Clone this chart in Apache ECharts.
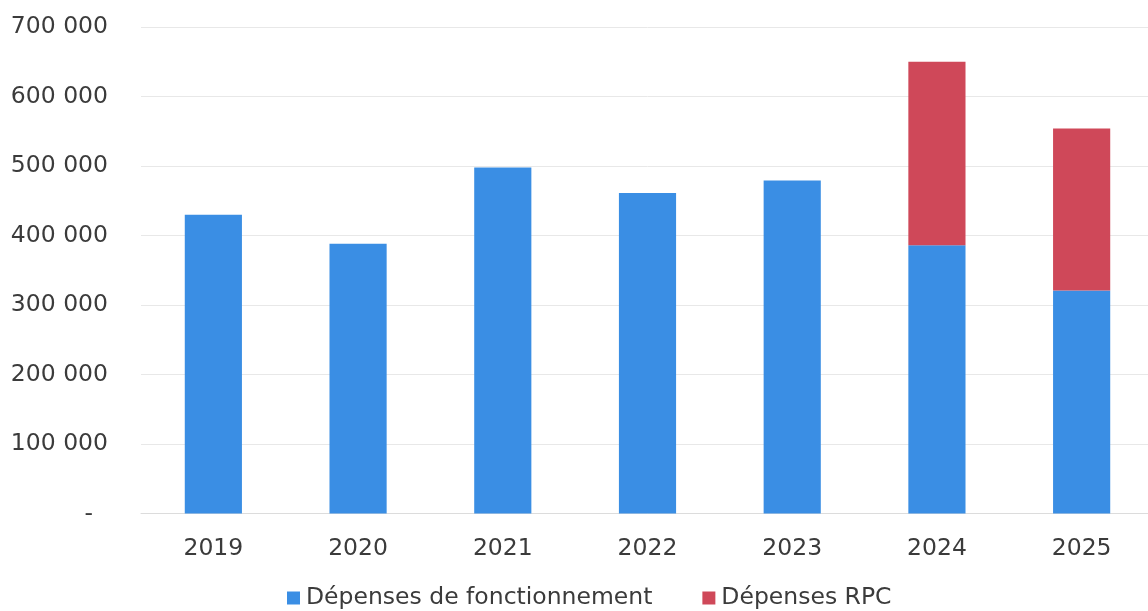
<!DOCTYPE html>
<html>
<head>
<meta charset="utf-8">
<style>
  html, body { margin: 0; padding: 0; background: #ffffff; overflow: hidden; }
  #chart { width: 1160px; height: 611px; }
</style>
<script src="https://cdn.jsdelivr.net/npm/echarts@6/dist/echarts.min.js"></script>
</head>
<body>
<div id="chart"></div>
<script>
// Operating expenses per year, with the RPC expenses stacked on top from 2024
const years = ['2019', '2020', '2021', '2022', '2023', '2024', '2025'];
const depensesFonctionnement = [430000, 388000, 498000, 461000, 479000, 386000, 321000];
const depensesRPC = [null, null, null, null, null, 264000, 233000];
const seriesNames = ['Dépenses de fonctionnement', 'Dépenses RPC'];

const textColor = '#3b3b3b';
const fontFamily = '"DejaVu Sans", Verdana, sans-serif';
const fontSize = 23.5;

function formatThousands(v) {
  if (v === 0) return '-  ';
  return String(v).replace(/\B(?=(\d{3})+(?!\d))/g, ' ');
}

const chart = echarts.init(document.getElementById('chart'), null, { renderer: 'canvas' });
chart.setOption({
  animation: false,
  backgroundColor: '#ffffff',
  textStyle: { fontFamily: fontFamily, color: textColor },
  grid: { left: 141, top: 27, width: 1013, bottom: 97.5, containLabel: false },
  legend: {
    data: seriesNames,
    left: 287,
    top: 586,
    padding: 0,
    itemWidth: 13,
    itemHeight: 13,
    itemGap: 50,
    icon: 'rect',
    textStyle: { fontSize: fontSize, color: textColor, fontFamily: fontFamily, padding: [0, 0, 0, 1] }
  },
  xAxis: {
    type: 'category',
    data: years,
    axisTick: { show: false },
    axisLine: { lineStyle: { color: '#dcdcdc', width: 1 } },
    axisLabel: { fontSize: fontSize, color: textColor, margin: 23, fontFamily: fontFamily }
  },
  yAxis: {
    type: 'value',
    min: 0,
    max: 700000,
    interval: 100000,
    axisLine: { show: false },
    axisTick: { show: false },
    splitLine: { lineStyle: { color: '#e8e8e8', width: 1 } },
    axisLabel: { fontSize: fontSize, color: textColor, margin: 33, fontFamily: fontFamily, formatter: formatThousands }
  },
  series: [
    {
      name: seriesNames[0],
      type: 'bar',
      stack: 'total',
      data: depensesFonctionnement,
      barWidth: '39.5%',
      itemStyle: { color: '#3a8ee4' }
    },
    {
      name: seriesNames[1],
      type: 'bar',
      stack: 'total',
      data: depensesRPC,
      barWidth: '39.5%',
      itemStyle: { color: '#cf4859' }
    }
  ]
});
</script>
</body>
</html>
